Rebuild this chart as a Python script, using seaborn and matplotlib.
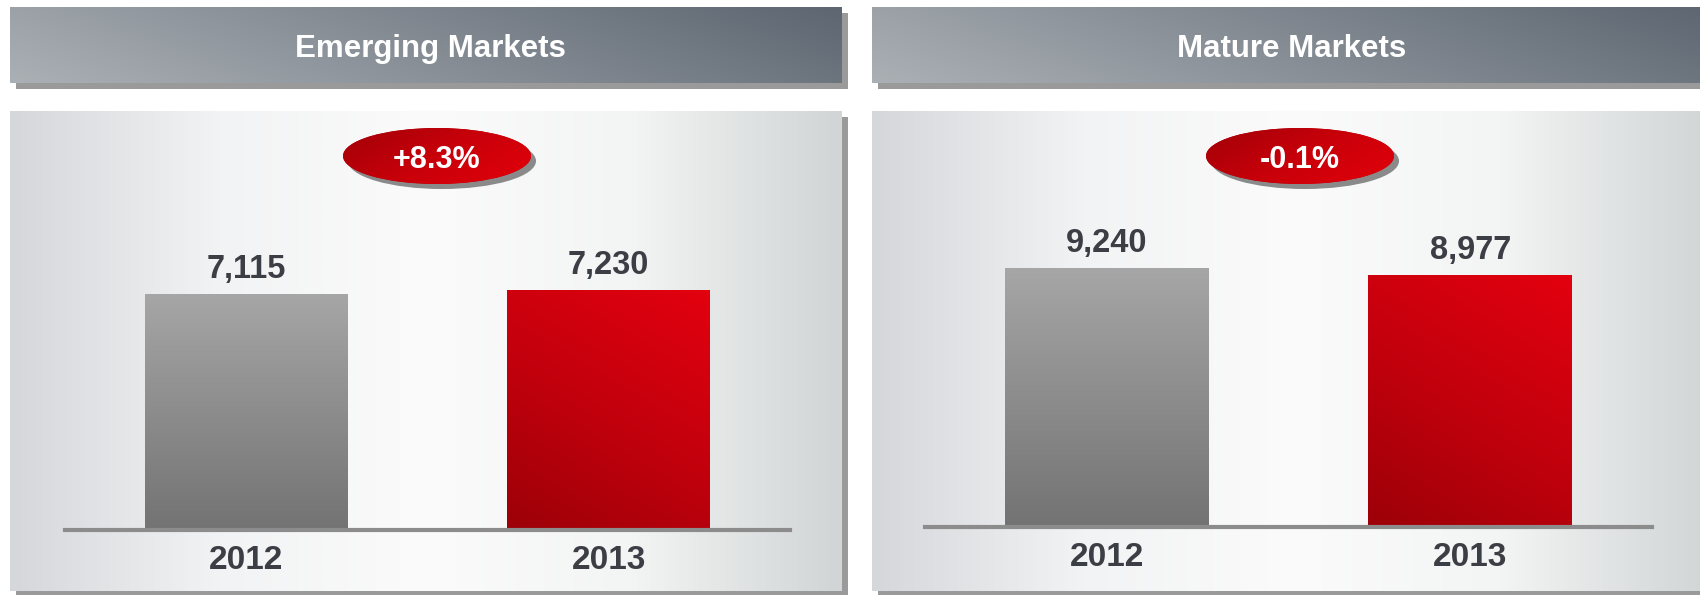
import numpy as np
import matplotlib
matplotlib.use("Agg")
import matplotlib.pyplot as plt
import seaborn as sns
from matplotlib.colors import LinearSegmentedColormap
from matplotlib.patches import Rectangle, Ellipse

# chart data
regions = ["Emerging Markets", "Mature Markets"]
years = ["2012", "2013"]
emerging = [7115, 7230]
mature = [9240, 8977]
changes = ["+8.3%", "-0.1%"]

sns.set_style("white")
plt.rcParams["font.family"] = ["Liberation Sans", "DejaVu Sans"]
DARK = "#3b3e44"


def grad(colors, dx, dy, n=200):
    # row 0 = top of the image
    xx, yy = np.meshgrid(np.linspace(0, 1, n), np.linspace(0, 1, n))
    t = xx * dx + yy * dy
    t = (t - t.min()) / (t.max() - t.min())
    cmap = LinearSegmentedColormap.from_list("g", colors)
    return cmap(t)


W, H = 1700, 595
fig = plt.figure(figsize=(W / 100, H / 100), dpi=100)
bg = fig.add_axes([0, 0, 1, 1])
bg.set_xlim(0, W)
bg.set_ylim(H, 0)
bg.axis("off")

panels = [(10, 842), (872, 1712)]
title_x = [430, 1292]
badge_x = [437, 1300]

for (x0, x1), title, tx in zip(panels, regions, title_x):
    # header banner + shadow
    bg.add_patch(Rectangle((x0 + 6, 13), x1 - x0, 76, fc="#9a9a9a", ec="none", zorder=1))
    bg.imshow(grad(["#abb0b5", "#5d6671"], 1, -0.25), extent=(x0, x1, 83, 7),
              aspect="auto", origin="upper", zorder=2, interpolation="bilinear")
    bg.text(tx, 57, title, ha="center", va="baseline", color="white",
            fontsize=22.5, fontweight="bold", zorder=3)
    # chart panel + shadow
    bg.add_patch(Rectangle((x0 + 6, 117), x1 - x0, 490, fc="#9a9a9a", ec="none", zorder=1))
    bg.imshow(grad(["#d6d7db", "#f2f3f4", "#fbfbfb", "#f3f4f4", "#d1d5d5"], 1, 0),
              extent=(x0, x1, 591, 111), aspect="auto", origin="upper", zorder=2,
              interpolation="bilinear")

for cx, label in zip(badge_x, changes):
    bg.add_patch(Ellipse((cx + 5, 161), 188, 56, fc="#8a8a8a", ec="none", zorder=4))
    ell = Ellipse((cx, 156), 188, 56, fc="#c00008", ec="none", zorder=5)
    bg.add_patch(ell)
    im = bg.imshow(grad(["#a20008", "#c8000a", "#e2000a"], 1, 0.5),
                   extent=(cx - 94, cx + 94, 184, 128), aspect="auto", origin="upper",
                   zorder=5.5, interpolation="bilinear")
    im.set_clip_path(ell)
    bg.text(cx, 168, label, ha="center", va="baseline", color="white",
            fontsize=22, fontweight="bold", zorder=6)
bg.set_xlim(0, W)
bg.set_ylim(H, 0)

# bar panels
axes_pos = [[65 / W, (H - 530) / H, 725 / W, 330 / H],
            [925 / W, (H - 527) / H, 727 / W, 327 / H]]
ylims = [9949, 11666]
bar_grads = [(["#a6a6a6", "#737373"], 0, 1), (["#e3000f", "#c3000d", "#9c0008"], -0.5, 1)]

for pos, vals, ymax in zip(axes_pos, [emerging, mature], ylims):
    ax = fig.add_axes(pos)
    sns.barplot(x=years, y=vals, hue=years, palette=["#8c8c8c", "#c00010"],
                width=0.56, saturation=1, legend=False, ax=ax)
    for patch, (cols, dx, dy) in zip(ax.patches, bar_grads):
        patch.set_edgecolor("none")
        bb = patch.get_bbox()
        im = ax.imshow(grad(cols, dx, dy), extent=(bb.x0, bb.x1, bb.y0, bb.y1),
                       aspect="auto", origin="upper", zorder=1.2, interpolation="bilinear")
        im.set_clip_path(patch)
    for i, v in enumerate(vals):
        ax.annotate(f"{v:,}", xy=(i, v), xytext=(0, 11.5), textcoords="offset points",
                    ha="center", va="baseline", fontsize=23.5, fontweight="bold",
                    color=DARK)
    ax.set_xlim(-0.5, 1.5)
    ax.set_ylim(0, ymax)
    ax.set_facecolor("none")
    ax.set(xlabel="", ylabel="", yticks=[])
    for s in ["top", "left", "right"]:
        ax.spines[s].set_visible(False)
    ax.spines["bottom"].set_color("#8c8c8c")
    ax.spines["bottom"].set_linewidth(3)
    ax.tick_params(axis="x", length=0, pad=11)
    for lab in ax.get_xticklabels():
        lab.set_fontsize(24)
        lab.set_fontweight("bold")
        lab.set_color(DARK)

fig.savefig("out.png", dpi=100, facecolor="white")
